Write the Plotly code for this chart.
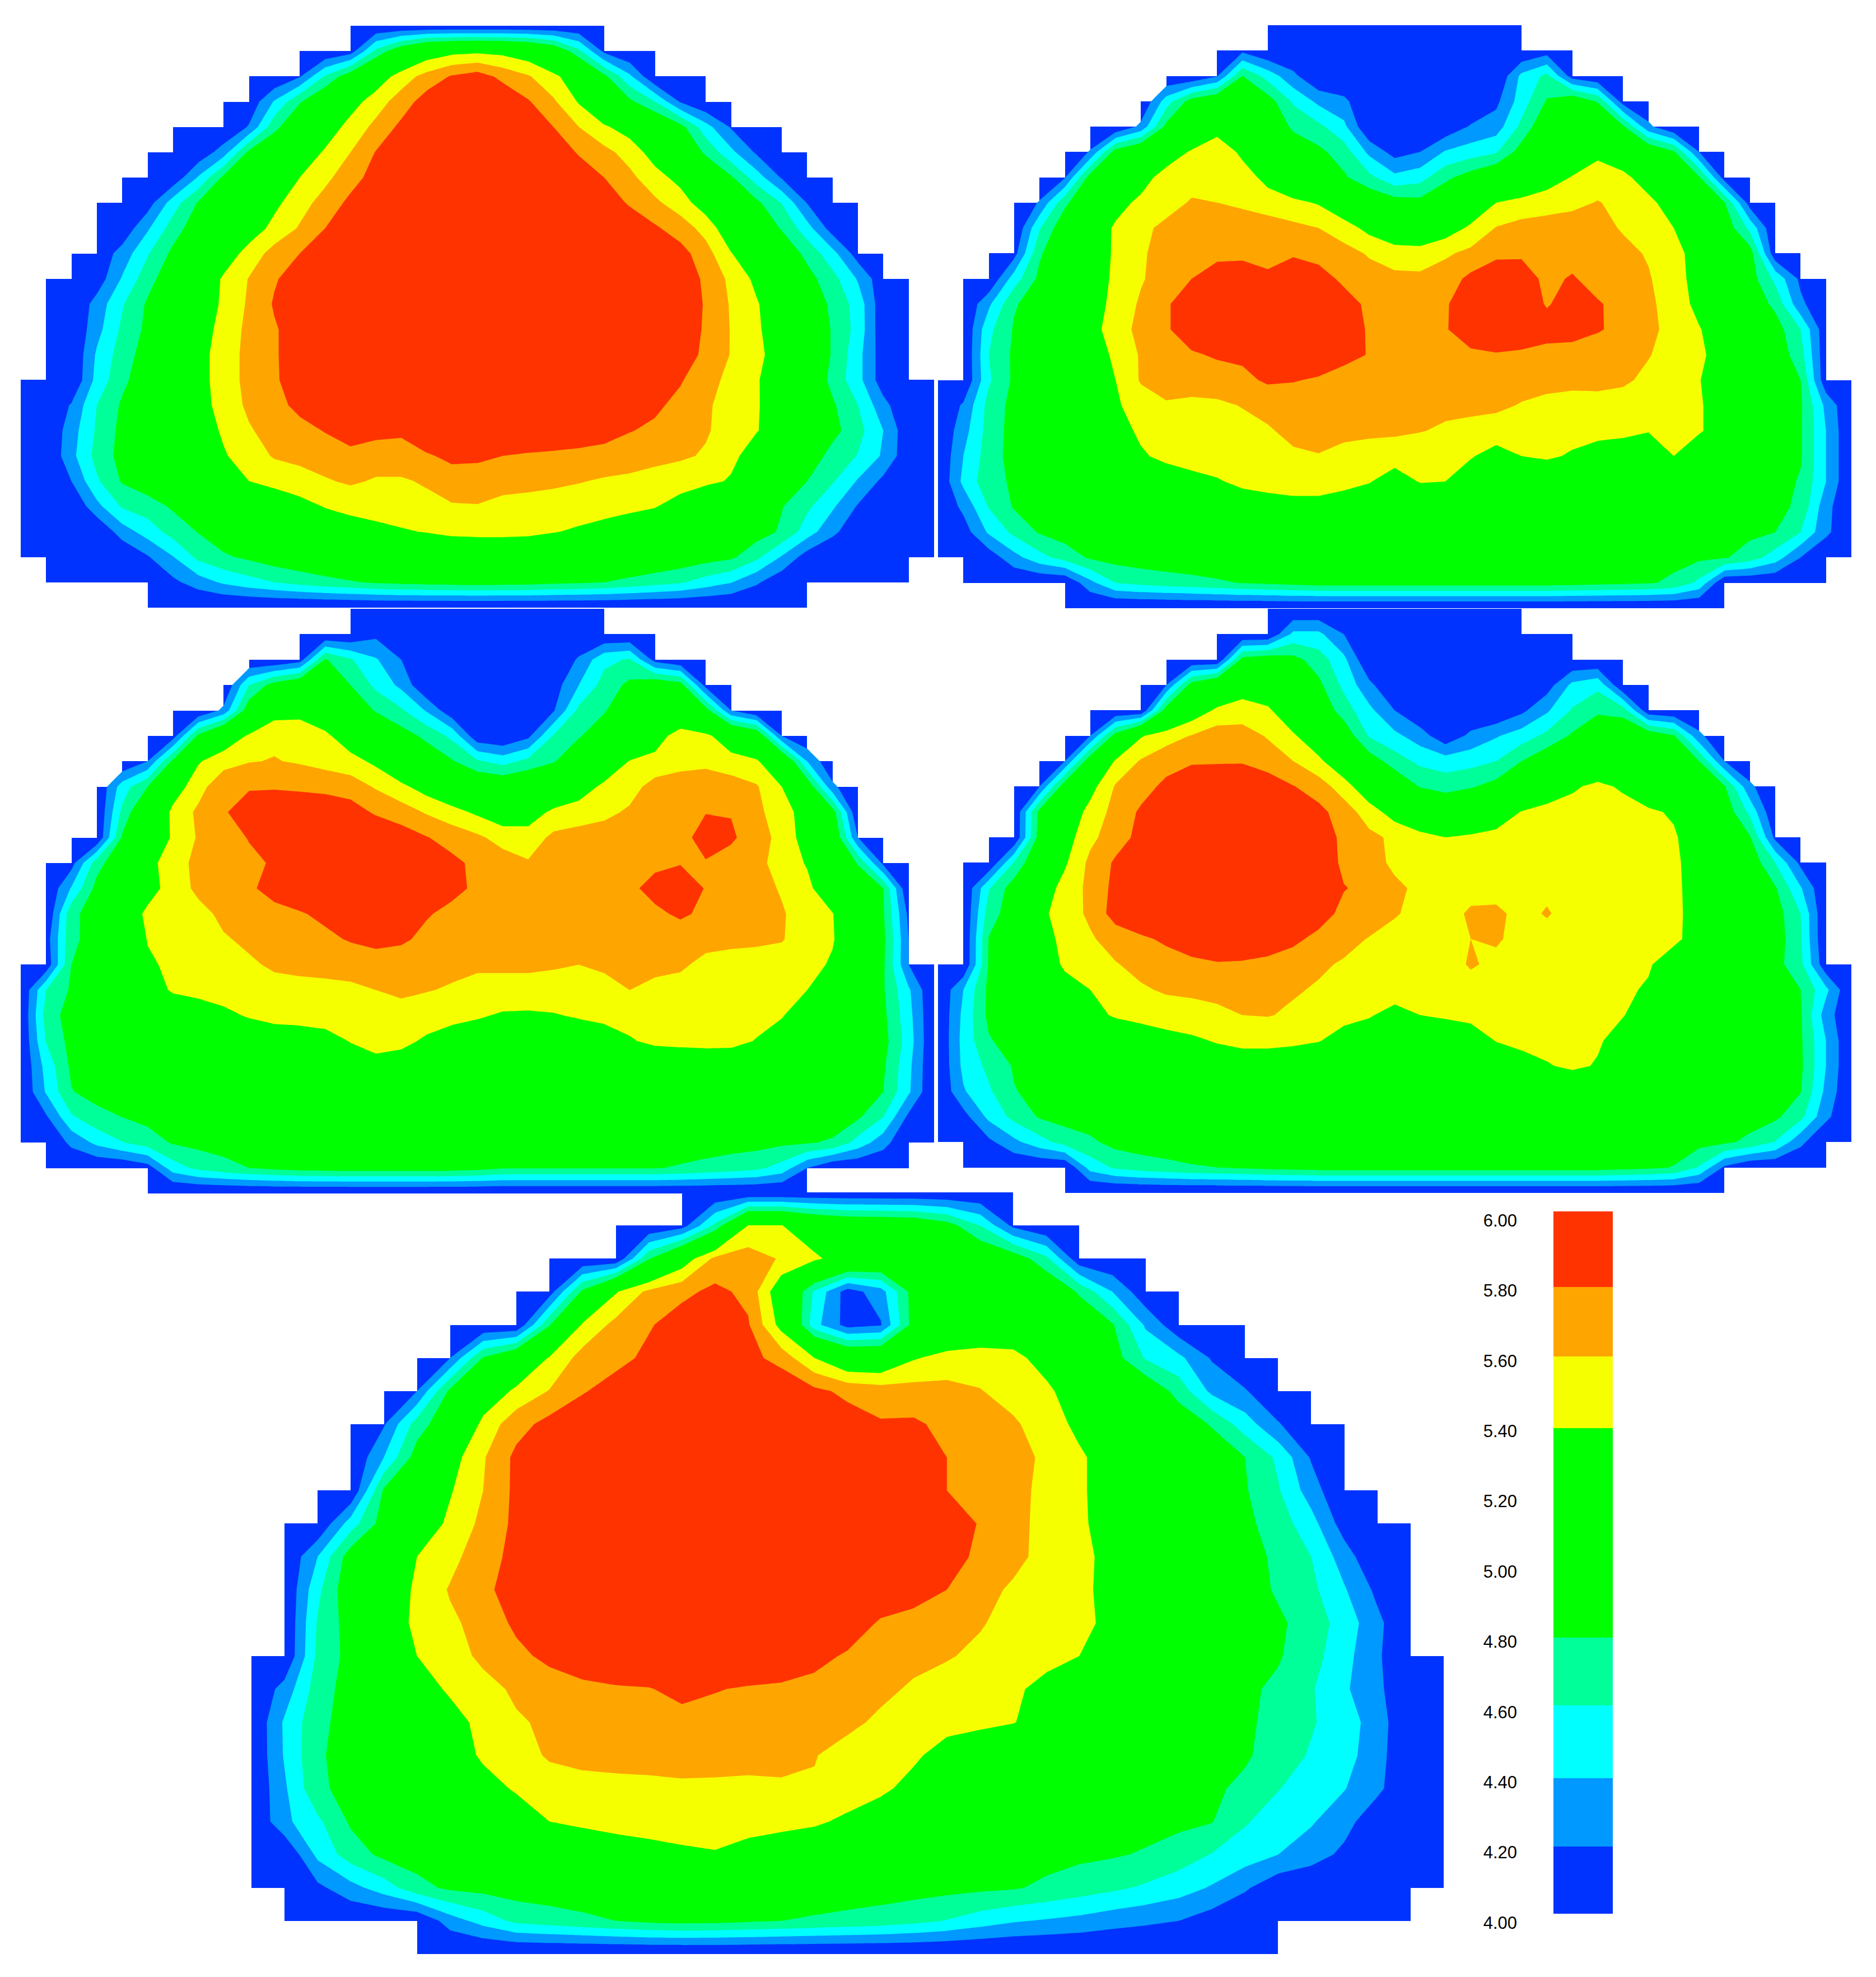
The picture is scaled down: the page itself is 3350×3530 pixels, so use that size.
#!/usr/bin/env python3
import numpy as np
import plotly.graph_objects as go

# cells of the measuring grid that exist on each row (same for every panel)
mask_first = [13, 11, 9, 8, 6, 5, 4, 3, 3, 2, 1, 1, 1, 1, 0, 0, 0, 0, 0, 0, 0, 1, 5]
mask_last = [23, 25, 27, 28, 30, 31, 32, 33, 33, 34, 35, 35, 35, 35, 36, 36, 36, 36, 36, 36, 36, 35, 31]

levels = [4.2, 4.4, 4.6, 4.8, 5.0, 5.2, 5.4, 5.6, 5.8]
blue = "#0033ff"
band_colors = ["#0033ff", "#0099ff", "#00ffff", "#00ff99", "#00ff00", "#f5ff00", "#ffa500", "#ff3300"]
# top to bottom of the scale bar, 6.00 down to 4.00
legend_edges = [6.0, 5.785, 5.587, 5.383, 4.787, 4.593, 4.386, 4.191, 4.0]
legend_ticks = [4.0, 4.2, 4.4, 4.6, 4.8, 5.0, 5.2, 5.4, 5.6, 5.8, 6.0]

# node values x100, one (first column, values) per grid line, 400 where not listed
panel1 = [
    (0, []),
    (13, [410,465,500,525,533,535,533,525,505,465,415]),
    (11, [418,462,495,525,550,567,582,590,574,562,545,525,485,444]),
    (9, [405,442,478,505,530,551,569,590,600,605,598,582,563,538,510,485,460,418]),
    (9, [422,474,502,526,548,565,585,597,605,608,605,595,580,560,543,530,510,488,448,418]),
    (7, [405,430,485,503,523,543,560,581,597,605,610,612,610,605,593,578,566,552,530,505,476,445,417]),
    (6, [405,442,485,502,520,540,555,572,588,600,608,612,614,612,608,600,592,580,565,548,533,505,483,450,418]),
    (5, [410,450,482,498,518,535,552,568,585,597,605,612,616,618,616,612,606,600,590,578,564,550,528,506,485,459,419]),
    (4, [405,437,470,493,510,528,546,562,580,592,600,606,612,616,618,618,616,612,606,600,592,583,570,553,523,500,478,448,410]),
    (3, [405,428,458,485,505,527,548,568,580,592,600,605,610,614,618,620,620,618,615,612,608,603,597,588,568,541,520,497,474,447,410]),
    (3, [408,442,472,495,520,543,561,578,590,598,604,608,612,616,620,622,622,620,618,615,612,608,602,594,576,555,535,512,488,467,438,405]),
    (3, [428,458,483,503,524,544,563,582,592,600,606,610,614,618,622,624,624,622,620,618,614,610,604,595,578,558,542,524,498,475,452,405]),
    (3, [433,464,485,507,528,548,565,578,590,598,604,610,614,618,622,624,624,622,620,618,614,610,604,595,577,559,543,528,502,478,453,405]),
    (3, [443,470,490,510,532,550,566,578,590,598,604,610,614,618,620,622,622,620,618,616,612,608,602,592,575,559,545,530,503,478,447,408]),
    (3, [447,475,494,513,532,550,566,578,588,596,602,608,612,616,618,620,620,618,616,612,608,602,595,582,567,555,542,526,500,474,447,408]),
    (2, [422,460,483,499,515,531,548,564,574,585,592,598,604,608,612,614,615,615,614,612,608,600,592,584,574,563,552,542,527,505,483,460,427]),
    (2, [431,463,486,500,514,528,543,558,568,574,581,590,586,584,594,602,604,604,602,600,596,590,581,576,570,562,552,541,530,511,487,467,440,405]),
    (2, [434,467,487,500,512,525,538,550,562,566,570,574,570,570,578,584,584,580,577,575,573,571,569,566,563,558,545,530,518,495,472,459,437,405]),
    (2, [420,457,482,493,505,517,529,540,546,551,558,563,558,558,562,572,570,565,564,563,561,558,556,552,548,545,538,517,497,480,462,438,415]),
    (3, [434,462,470,483,495,507,516,525,533,541,545,547,550,555,558,559,556,555,553,550,547,544,541,532,516,503,490,481,464,443,418]),
    (4, [430,449,468,481,493,503,512,519,525,531,535,538,541,545,546,546,545,541,537,533,529,524,518,510,500,490,477,450,425,405]),
    (5, [418,439,465,477,484,492,497,502,506,509,512,515,517,518,518,517,515,512,509,505,500,495,489,484,465,438,410]),
    (6, [415,430,443,452,460,467,473,478,483,486,488,489,490,489,488,485,483,480,474,468,462,451,441,423,405]),
]

panel2 = [
    (0, []),
    (12, [415,400,400,400,400,400,400,400,400,400,400,400,410]),
    (11, [418,480,452,425,400,400,400,400,400,400,400,400,445,465,410]),
    (9, [450,490,505,505,490,457,435,425,400,400,400,400,400,415,450,482,500,478,410]),
    (8, [425,486,510,530,525,500,476,465,445,400,400,400,405,422,430,465,500,510,510,483,425]),
    (6, [422,490,510,525,543,555,535,515,495,485,470,435,412,420,442,450,458,490,510,525,535,525,505,483,420]),
    (5, [418,490,515,530,550,552,552,550,533,515,500,483,465,445,452,475,490,505,520,530,541,550,545,530,505,482,410]),
    (4, [422,475,505,532,545,552,562,560,556,550,545,538,520,500,490,487,500,520,540,545,550,555,561,555,545,530,510,481,410]),
    (4, [458,497,525,543,555,565,570,572,572,570,565,560,550,533,520,515,528,544,561,568,570,570,567,558,548,540,525,495,455]),
    (3, [412,477,500,522,544,556,572,574,575,576,575,577,572,567,558,550,550,557,565,575,577,573,572,570,566,558,546,532,510,490,405]),
    (3, [450,485,508,528,544,558,570,580,590,590,583,597,590,575,568,565,564,570,585,595,590,575,582,572,568,562,547,533,515,490,455,415]),
    (2, [436,478,490,502,530,546,563,578,590,597,600,600,600,598,590,575,570,567,578,592,600,595,578,590,582,573,565,549,535,520,495,475,425]),
    (2, [455,482,497,512,532,550,566,578,590,600,603,604,605,603,590,578,570,568,578,595,602,596,590,590,582,574,566,552,541,530,510,490,460,405]),
    (2, [460,484,497,509,525,545,562,572,578,582,584,590,596,592,586,579,570,568,572,575,578,576,572,570,568,565,561,553,544,530,515,495,468,405]),
    (2, [457,484,494,506,520,540,562,568,570,572,575,583,581,578,572,569,568,566,565,565,566,566,566,565,564,563,556,548,541,525,510,495,480,405]),
    (1, [423,467,487,497,506,518,537,550,558,555,556,561,566,570,570,569,568,566,565,565,564,563,559,555,553,555,552,549,546,542,530,515,500,483,435]),
    (1, [432,468,488,498,506,520,533,543,547,550,552,553,558,565,568,566,565,564,561,557,555,553,552,550,549,548,546,541,545,543,525,512,497,482,440]),
    (1, [440,470,488,498,508,518,528,538,544,548,551,553,555,557,559,553,549,547,546,545,542,530,540,544,537,528,525,525,540,520,510,500,492,482,440]),
    (1, [445,473,483,494,504,513,520,525,530,534,538,545,549,552,552,546,541,532,541,540,525,517,515,515,512,510,508,508,508,505,500,495,489,478,440]),
    (1, [425,461,482,490,498,504,510,515,519,522,525,527,529,531,531,529,527,525,524,523,521,519,517,515,513,511,509,507,505,503,500,494,487,475,427]),
    (1, [410,443,465,482,490,495,499,503,506,508,510,511,512,513,513,512,511,510,509,508,507,506,505,504,503,502,500,498,495,492,488,485,480,460,425]),
    (2, [408,433,453,468,483,488,491,493,495,496,497,498,498,498,498,498,497,497,496,496,495,495,494,493,491,490,488,486,484,482,470,450,420]),
    (6, [434,460,466,470,473,477,481,484,487,490,490,490,490,490,490,490,490,490,490,488,486,484,482,476,455,400]),
]

panel3 = [
    (0, []),
    (14, [415]),
    (11, [410,482,462,442,420,400,400,400,400,400,400,423,455,462,412]),
    (9, [460,490,505,508,480,455,435,400,400,400,400,400,410,440,468,485,500,490,412]),
    (8, [425,495,530,530,520,500,478,463,438,405,400,400,400,418,465,478,500,515,515,490,420]),
    (6, [410,485,523,543,556,558,545,525,508,490,475,455,405,400,415,462,478,495,510,530,550,545,525,505,420]),
    (5, [420,485,538,552,559,561,558,553,548,535,515,495,482,463,452,466,478,500,520,541,546,552,555,548,543,515,440]),
    (4, [450,480,528,552,575,578,578,576,574,570,558,545,530,515,505,503,508,517,528,545,552,568,572,572,570,562,540,498,425]),
    (4, [465,510,545,564,578,590,595,597,595,590,577,570,558,548,536,525,530,544,550,555,563,567,570,579,579,565,549,530,490]),
    (4, [483,518,543,562,572,581,592,600,605,605,600,590,581,572,564,552,548,565,568,570,572,574,570,592,583,570,553,530,505,420]),
    (2, [412,472,498,532,552,565,572,576,582,590,597,600,602,600,596,585,575,570,562,568,570,572,573,575,579,578,572,565,553,538,510,478,415]),
    (2, [442,487,513,532,548,565,572,577,587,596,600,604,605,604,596,586,576,572,570,570,572,574,575,588,592,579,572,568,558,546,520,500,480,400]),
    (2, [474,492,525,544,548,553,565,570,574,578,585,596,600,590,582,574,570,568,566,566,566,567,570,575,584,575,570,567,562,550,541,510,482,415]),
    (1, [410,475,490,515,541,548,552,558,564,568,570,575,582,588,584,574,570,567,566,566,566,566,566,566,566,566,566,565,563,561,552,542,515,485,420]),
    (1, [405,480,490,510,537,544,549,553,557,563,565,566,566,567,567,566,565,562,562,562,561,560,562,563,565,563,555,552,553,553,548,537,510,483,420]),
    (1, [460,483,490,505,527,543,546,549,552,553,554,555,557,560,564,561,558,556,556,556,556,556,556,560,555,553,551,550,548,546,540,520,503,482,443]),
    (1, [468,490,497,505,512,520,528,535,542,547,548,549,550,552,552,549,546,543,537,536,538,543,546,548,550,550,549,548,547,542,520,510,497,485,447]),
    (1, [461,487,490,497,503,509,514,519,523,526,528,532,541,548,545,537,530,523,519,517,517,520,528,538,545,546,547,546,539,525,513,505,498,488,450]),
    (1, [447,484,492,498,503,507,511,514,517,520,522,525,528,532,530,526,522,519,516,514,513,513,514,516,519,522,523,524,522,518,512,504,495,483,445]),
    (1, [442,479,488,494,498,502,505,507,509,511,513,514,516,517,517,515,513,511,510,509,509,509,510,511,512,513,514,514,513,511,507,501,493,480,443]),
    (1, [417,457,473,480,486,491,495,498,500,502,504,505,506,507,507,507,506,506,505,505,505,505,505,505,505,505,505,504,503,502,498,492,483,460,415]),
    (2, [425,445,459,470,482,486,489,491,492,493,494,494,495,495,495,495,495,495,495,495,494,494,493,492,491,490,488,487,484,482,477,452,428]),
    (5, [410,450,465,473,480,485,489,490,491,491,491,491,490,487,481,481,481,481,481,481,481,478,474,470,465,452,420]),
]

panel4 = [
    (0, []),
    (14, [445,445,420]),
    (12, [488,495,487,470,445]),
    (9, [420,490,512,530,520,500,485,455,425,400,400,400,400,400,400,410,445,455]),
    (9, [492,525,544,548,544,520,497,470,445,420,400,400,400,400,415,437,462,475,470,405]),
    (6, [420,490,538,552,561,571,570,558,543,522,495,458,445,430,405,425,438,450,465,483,505,505,498,482,425]),
    (5, [420,497,543,562,572,578,578,578,572,560,545,520,492,470,455,450,453,460,480,497,510,518,520,515,500,480,420]),
    (4, [420,495,532,562,572,585,592,596,598,590,581,570,550,522,500,479,472,478,488,505,525,537,545,537,520,510,495,482,425]),
    (4, [487,522,547,567,583,595,603,606,606,604,597,586,570,550,530,512,505,510,525,541,547,548,550,548,544,537,520,495,455]),
    (4, [490,530,555,571,586,597,606,610,610,608,602,590,576,565,556,548,540,544,547,548,549,550,550,549,547,543,525,500,482,415]),
    (3, [462,505,537,565,583,592,600,608,612,612,612,608,597,575,568,556,550,548,548,549,549,550,550,550,550,548,544,530,510,495,460,415]),
    (2, [458,492,525,548,565,586,596,604,610,613,614,614,610,600,581,575,564,556,552,553,551,552,555,551,551,550,548,544,532,513,495,482,442]),
    (2, [470,493,533,552,563,590,600,608,614,616,616,613,605,590,574,570,562,553,552,563,565,553,562,551,550,550,548,544,533,516,503,490,460]),
    (2, [481,498,528,547,558,567,576,584,592,598,598,593,585,574,566,559,552,549,548,560,563,552,551,550,550,550,548,544,532,518,505,492,462]),
    (2, [482,500,522,544,550,559,565,570,575,578,577,574,569,563,558,554,550,548,548,563,554,550,549,549,548,546,542,530,520,510,500,488,465,405]),
    (1, [440,485,502,518,530,540,549,558,562,563,565,565,564,562,558,556,554,551,548,546,549,550,549,549,548,546,543,538,528,518,510,502,492,480,445]),
    (1, [445,485,498,510,520,532,543,548,552,554,556,560,561,557,552,545,542,532,540,544,547,549,548,547,546,545,541,528,520,512,505,497,490,482,430]),
    (1, [447,478,490,498,505,512,518,524,531,536,542,546,546,544,541,533,525,520,518,518,526,541,547,549,547,543,530,520,514,508,503,497,491,483,440]),
    (1, [445,465,482,490,497,503,508,513,517,521,525,527,527,526,524,521,517,515,514,514,516,521,529,538,545,538,525,518,512,507,502,497,491,484,440]),
    (1, [438,457,479,486,491,496,500,503,506,508,510,512,512,512,511,510,509,508,508,508,509,510,511,513,514,512,510,507,504,502,499,495,489,481,435]),
    (1, [412,445,466,482,488,491,494,496,498,500,501,502,503,503,503,503,503,503,503,503,503,503,503,503,503,502,501,500,498,496,493,489,484,466,425]),
    (2, [415,435,452,468,476,487,490,492,493,495,495,496,496,496,496,496,496,496,496,496,496,496,496,496,495,494,493,491,487,484,475,459,425]),
    (6, [448,463,470,474,478,480,483,486,488,490,490,490,490,490,490,490,490,490,490,490,490,487,484,479,458,416]),
]

panel5 = [
    (0, []),
    (13, [410,465,541,541,520,510,508,505,490,460,415]),
    (12, [478,525,565,570,558,545,525,515,510,507,505,495,465,405]),
    (9, [410,485,538,565,575,585,575,522,457,410,431,490,510,515,515,505,477,440,405]),
    (9, [478,543,566,578,590,595,582,532,447,412,418,490,510,518,520,515,500,482,437,405]),
    (6, [420,482,510,542,568,573,585,595,600,587,572,540,515,515,538,548,550,547,530,510,490,458,445,418]),
    (5, [420,485,520,545,561,578,590,600,605,608,605,598,585,575,570,568,566,561,552,545,525,512,500,472,435,422]),
    (4, [418,470,497,547,572,587,597,605,610,612,612,612,610,600,590,582,583,575,570,563,550,535,520,505,495,478,450,422]),
    (4, [440,490,530,558,585,595,602,606,610,612,612,612,610,608,606,604,600,580,572,566,557,543,530,518,505,495,480,456,418]),
    (4, [483,507,538,560,585,597,605,608,612,612,612,612,612,610,608,606,600,580,572,566,555,543,530,520,508,497,482,462,430]),
    (3, [450,490,522,545,565,585,595,602,608,612,612,612,612,612,612,610,608,605,597,578,568,552,543,532,522,510,498,485,470,448,410]),
    (2, [440,492,520,540,553,573,585,595,602,608,612,612,612,612,612,612,610,606,600,590,575,566,553,546,533,522,512,500,488,476,460,430]),
    (2, [455,497,527,543,562,577,586,592,600,607,612,612,612,610,608,605,600,592,590,580,567,557,547,545,533,523,513,502,491,477,465,442,415]),
    (2, [462,490,525,545,556,568,584,590,596,602,606,608,608,606,600,596,590,578,572,566,562,552,548,545,535,525,515,505,495,484,470,452,425]),
    (2, [465,487,515,540,552,564,575,585,590,595,598,600,600,598,592,585,578,572,566,562,555,550,547,540,530,522,512,503,492,482,468,447,423]),
    (1, [428,470,489,510,530,543,554,563,570,576,578,579,585,581,578,577,575,570,565,557,550,547,544,533,522,512,505,497,490,484,476,462,443,425]),
    (1, [443,475,488,503,517,532,546,558,563,567,570,571,574,573,572,570,568,565,556,552,548,545,541,530,520,510,503,496,490,484,473,462,450,430]),
    (1, [442,477,489,498,508,525,544,553,562,565,566,566,567,568,566,564,561,552,548,544,530,523,517,512,507,502,498,494,489,483,470,458,448,428]),
    (1, [437,476,487,495,503,518,530,543,552,554,555,556,557,556,556,558,558,553,545,532,520,512,506,501,497,494,491,487,484,475,461,450,441,425]),
    (1, [435,456,483,490,497,505,515,525,540,545,549,551,552,552,550,547,544,535,525,516,510,505,500,496,493,490,487,485,481,462,450,442,428,405]),
    (2, [445,470,485,490,495,501,507,513,519,525,530,535,538,530,525,518,511,505,500,497,494,491,487,484,482,478,470,459,450,440,430,415]),
    (2, [415,433,450,473,484,487,490,492,494,496,497,497,497,496,495,494,492,490,488,486,484,482,476,470,464,457,449,438,423,405]),
    (6, [430,448,465,470,475,480,485,487,486,483,480,477,474,471,466,459,450,442,438,434,428,424,420,410]),
]

W, H = 3350, 3530
# left, right, top, bottom of each panel on the page
panel_boxes = [
    (37, 1668, 46, 1085),
    (1675, 3306, 45, 1086),
    (37, 1668, 1087, 2131),
    (1675, 3306, 1087, 2130),
    (449, 2578, 2129, 3489),
]
panels = [panel1, panel2, panel3, panel4, panel5]


def to_grid(rows):
    z = np.full((24, 37), 400.0)
    for j, (start, vals) in enumerate(rows):
        z[j, start:start + len(vals)] = vals
    z[23] = 395
    return z / 100


mask = np.full((23, 36), np.nan)
for j in range(23):
    mask[j, mask_first[j]:mask_last[j]] = 1
# white over the cells outside the mask, so contours stop at the stepped edge
outside = np.where(np.isnan(mask), 1.0, np.nan)
outside[0] = np.nan

# the contour colours sit half a level off the contour lines
fill_scale = [[0, "rgba(0,51,255,0)"]]
fill_cols = ["#0099ff", "#00ffff", "#00ff99", "#00ff00", "#00ff00", "#00ff00", "#f5ff00", "#ffa500", "#ff3300"]
for i, c in enumerate(fill_cols):
    fill_scale.append([(i + 1) / 9, c])

fig = go.Figure()
layout = {}
for n, rows in enumerate(panels):
    ax = "" if n == 0 else str(n + 1)
    x0, x1, y0, y1 = panel_boxes[n]
    layout["xaxis" + ax] = dict(domain=[x0 / W, x1 / W], range=[0, 36], visible=False, anchor="y" + ax, fixedrange=True, automargin=False)
    layout["yaxis" + ax] = dict(domain=[1 - y1 / H, 1 - y0 / H], range=[23, 0], visible=False, anchor="x" + ax, fixedrange=True, automargin=False)
    fig.add_trace(go.Heatmap(
        z=mask, x=np.arange(36) + 0.5, y=np.arange(23) + 0.5,
        colorscale=[[0, blue], [1, blue]], showscale=False, hoverinfo="skip",
        xaxis="x" + ax, yaxis="y" + ax,
    ))
    fig.add_trace(go.Contour(
        z=to_grid(rows), x=np.arange(37), y=np.arange(24),
        contours=dict(start=levels[0], end=levels[-1], size=0.2, coloring="fill", showlines=False),
        colorscale=fill_scale, line=dict(width=0, smoothing=0), showscale=False, hoverinfo="skip",
        xaxis="x" + ax, yaxis="y" + ax,
    ))
    fig.add_trace(go.Heatmap(
        z=outside, x=np.arange(36) + 0.5, y=np.arange(23) + 0.5,
        colorscale=[[0, "white"], [1, "white"]], showscale=False, hoverinfo="skip",
        xaxis="x" + ax, yaxis="y" + ax,
    ))

# scale bar
fig.add_trace(go.Heatmap(
    z=[[7 - i] for i in range(len(band_colors))], x=[0, 1], y=legend_edges,
    zmin=0, zmax=7,
    colorscale=[[i / 7, c] for i, c in enumerate(band_colors)],
    showscale=False, hoverinfo="skip", xaxis="x6", yaxis="y6",
))
layout["xaxis6"] = dict(domain=[2774 / W, 2880 / W], range=[0, 1], visible=False, anchor="y6", fixedrange=True, automargin=False)
layout["yaxis6"] = dict(
    domain=[1 - 3417 / H, 1 - 2163 / H], range=[4, 6], anchor="x6", fixedrange=True, automargin=False,
    tickmode="array", tickvals=legend_ticks, ticktext=["%.2f" % t for t in legend_ticks],
    ticks="", showgrid=False, zeroline=False, showline=False,
    ticklabelstandoff=64, ticklabelshift=16,
    tickfont=dict(family="Liberation Sans", size=31, color="#000000"),
)

fig.update_layout(
    width=W, height=H, margin=dict(l=0, r=0, t=0, b=0),
    paper_bgcolor="white", plot_bgcolor="rgba(0,0,0,0)", showlegend=False,
    **layout,
)
fig.write_html("out.html", config={"displayModeBar": False},
               post_script="document.body.style.margin='0';")
